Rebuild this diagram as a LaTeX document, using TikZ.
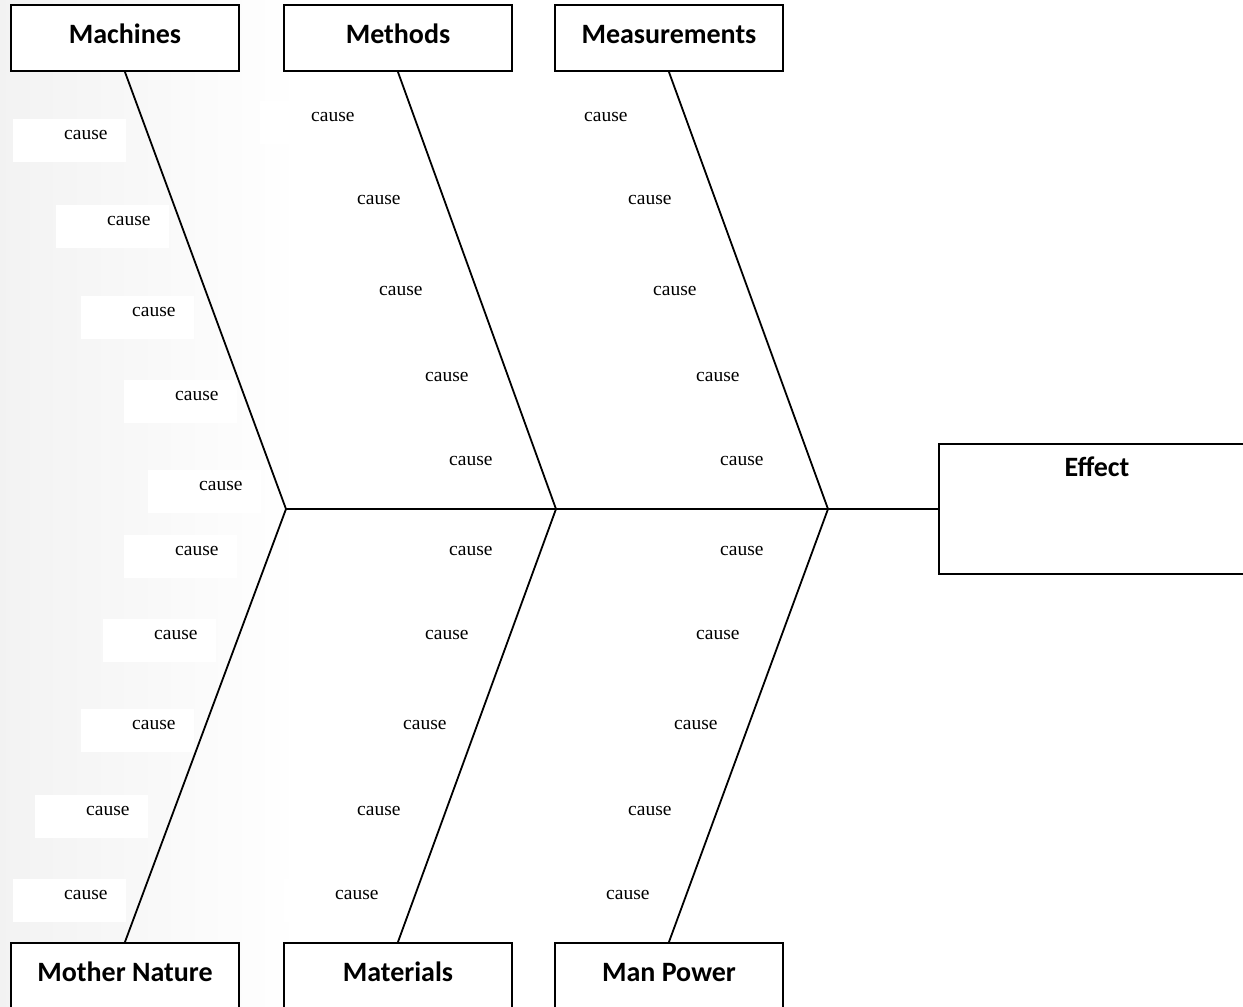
\documentclass[tikz,border=0pt]{standalone}
\usepackage{fontspec}
\usepackage{tikz}
\usetikzlibrary{positioning,calc}

\newfontfamily\headfont{Carlito}
\newfontfamily\causefont{Liberation Serif}

\begin{document}
\begin{tikzpicture}[x=1pt,y=-1pt,line cap=round]
  % Local definitions
  \def\boxw{228pt}
  \def\boxh{66pt}

  % Styles
  \tikzstyle{category}=[draw,fill=white,line width=2.2pt,minimum width=\boxw,minimum height=\boxh,
    font=\headfont\bfseries\fontsize{28}{30}\selectfont,text height=20pt,text depth=10pt]
  \tikzstyle{effectbox}=[draw,fill=white,line width=2.2pt,minimum width=316pt,minimum height=130pt]
  \tikzstyle{effecttext}=[anchor=north,inner sep=0pt,text height=20pt,
    font=\headfont\bfseries\fontsize{28}{30}\selectfont]
  \tikzstyle{cause}=[fill=white,text width=77pt,align=right,inner xsep=18pt,inner ysep=0pt,
    text depth=10pt,minimum height=43pt,xshift=-17pt,yshift=-7pt,
    font=\causefont\fontsize{19.5}{21}\selectfont]
  \tikzstyle{bone}=[line width=1.8pt]

  % Page and background
  \useasboundingbox (0,0) rectangle (1243,1007);
  \fill[white] (0,0) rectangle (1243,1007);
  \shade[left color=black!5,right color=white] (0,0) rectangle (300,1007);

  % Category boxes
  \node[category] (mach) at (125,38) {Machines};
  \node[category] (meth) at (398,38) {Methods};
  \node[category] (meas) at (669,38) {Measurements};
  \node[category] (nature) at (125,976) {Mother Nature};
  \node[category] (mat) at (398,976) {Materials};
  \node[category] (man) at (669,976) {Man Power};

  % Effect
  \node[effectbox] (effect) at (1097,509) {};
  \node[effecttext] (efftxt) at ([yshift=-13pt]effect.north) {Effect};

  % Causes
  \foreach \x/\y [count=\i] in {86/133,129/219,154/310,197/394,221/484,
                               197/549,176/633,154/723,108/809,86/893,
                               333/115,379/198,401/289,447/375,471/459,
                               471/549,447/633,425/723,379/809,357/893,
                               606/115,650/198,675/289,718/375,742/459,
                               742/549,718/633,696/723,650/809,628/893}
    \node[cause] (c\i) at (\x,\y) {cause};

  % Joints on the spine
  \coordinate (j1) at (286,509);
  \coordinate (j2) at (556,509);
  \coordinate (j3) at (828,509);

  % Bones
  \draw[bone] (mach.south) -- (j1) -- (nature.north);
  \draw[bone] (meth.south) -- (j2) -- (mat.north);
  \draw[bone] (meas.south) -- (j3) -- (man.north);
  \draw[bone] (j1) -- (effect.west);

\end{tikzpicture}
\end{document}
